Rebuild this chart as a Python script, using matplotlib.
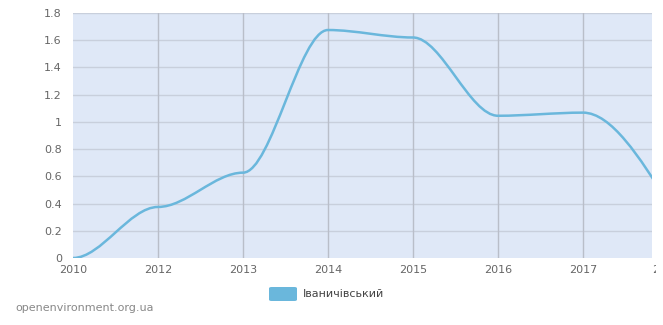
import matplotlib
matplotlib.use("Agg")
import matplotlib.pyplot as plt
import numpy as np
from matplotlib.path import Path
from matplotlib.patches import PathPatch, FancyBboxPatch
from matplotlib.transforms import Bbox

# --- Dados ---
years = ["2010", "2012", "2013", "2014", "2015", "2016", "2017", "2018"]
values = [0.0, 0.375, 0.627, 1.675, 1.62, 1.045, 1.068, 0.41]
y_ticks = [0, 0.2, 0.4, 0.6, 0.8, 1.0, 1.2, 1.4, 1.6, 1.8]
series_name = "Іваничівський"
site = "openenvironment.org.ua"

LINE_COLOR = "#6ab7dc"
BG_COLOR = "#dfe8f7"
GRID_H = "#c8cfdc"
GRID_V = "#b9bec9"
TEXT_COLOR = "#666666"

plt.rcParams["font.family"] = ["DejaVu Sans"]


def spline_path(xs, ys):
    # curva suave: tangente horizontal nos pontos, última com 1.5x a secante
    m = np.zeros(len(ys))
    m[-1] = 1.5 * (ys[-1] - ys[-2]) / (xs[-1] - xs[-2])
    verts = [(xs[0], ys[0])]
    codes = [Path.MOVETO]
    for i in range(len(xs) - 1):
        h = xs[i + 1] - xs[i]
        verts += [(xs[i] + h / 3, ys[i] + m[i] * h / 3),
                  (xs[i + 1] - h / 3, ys[i + 1] - m[i + 1] * h / 3),
                  (xs[i + 1], ys[i + 1])]
        codes += [Path.CURVE4] * 3
    return Path(verts, codes)


W, H = 663, 325
fig = plt.figure(figsize=(W / 100, H / 100), dpi=100)
left, right, top, bottom = 73, 652, 13, 258
ax = fig.add_axes([left / W, 1 - bottom / H, (right - left) / W, (bottom - top) / H])
ax.set_facecolor(BG_COLOR)

x = np.arange(len(years))
step = 85.0  # px por categoria
ax.set_xlim(0, (right - left) / step)
ax.set_ylim(0, 1.8)

# grade
for yt in y_ticks[1:]:
    ax.axhline(yt, color=GRID_H, lw=1.0, zorder=1)
for xi in x[1:]:
    ax.axvline(xi, color=GRID_V, lw=1.0, zorder=1)

ax.add_patch(PathPatch(spline_path(x, values), fill=False, edgecolor=LINE_COLOR,
                       lw=1.8, zorder=3, capstyle="round", joinstyle="round"))

for s in ax.spines.values():
    s.set_visible(False)

ax.set_xticks(x[:-1])
ax.set_xticklabels(years[:-1])
ax.set_yticks(y_ticks)
ax.set_yticklabels([f"{v:g}" for v in y_ticks])
ax.tick_params(axis="both", length=0, labelsize=8, labelcolor=TEXT_COLOR)
ax.tick_params(axis="y", pad=8)
ax.tick_params(axis="x", pad=5)

# rótulo da última categoria, cortado na borda do gráfico
t = ax.text(x[-1] - 0.02, -0.03, years[-1], transform=ax.get_xaxis_transform(),
            ha="center", va="top", fontsize=8, color=TEXT_COLOR)
t.set_clip_box(Bbox.from_extents(0, 0, 656, H))
t.set_clip_on(True)

# legenda
fig.patches.append(FancyBboxPatch((269 / W, 1 - 301 / H), 28 / W, 14 / H,
                                  boxstyle="round,pad=0,rounding_size=0.004",
                                  transform=fig.transFigure, facecolor=LINE_COLOR,
                                  edgecolor="none"))
fig.text(303 / W, 1 - 294 / H, series_name, ha="left", va="center",
         fontsize=8, color="#444444")

fig.text(15 / W, 1 - 308 / H, site, ha="left", va="center",
         fontsize=8, color="#888888")

fig.savefig("out.png", dpi=100)
